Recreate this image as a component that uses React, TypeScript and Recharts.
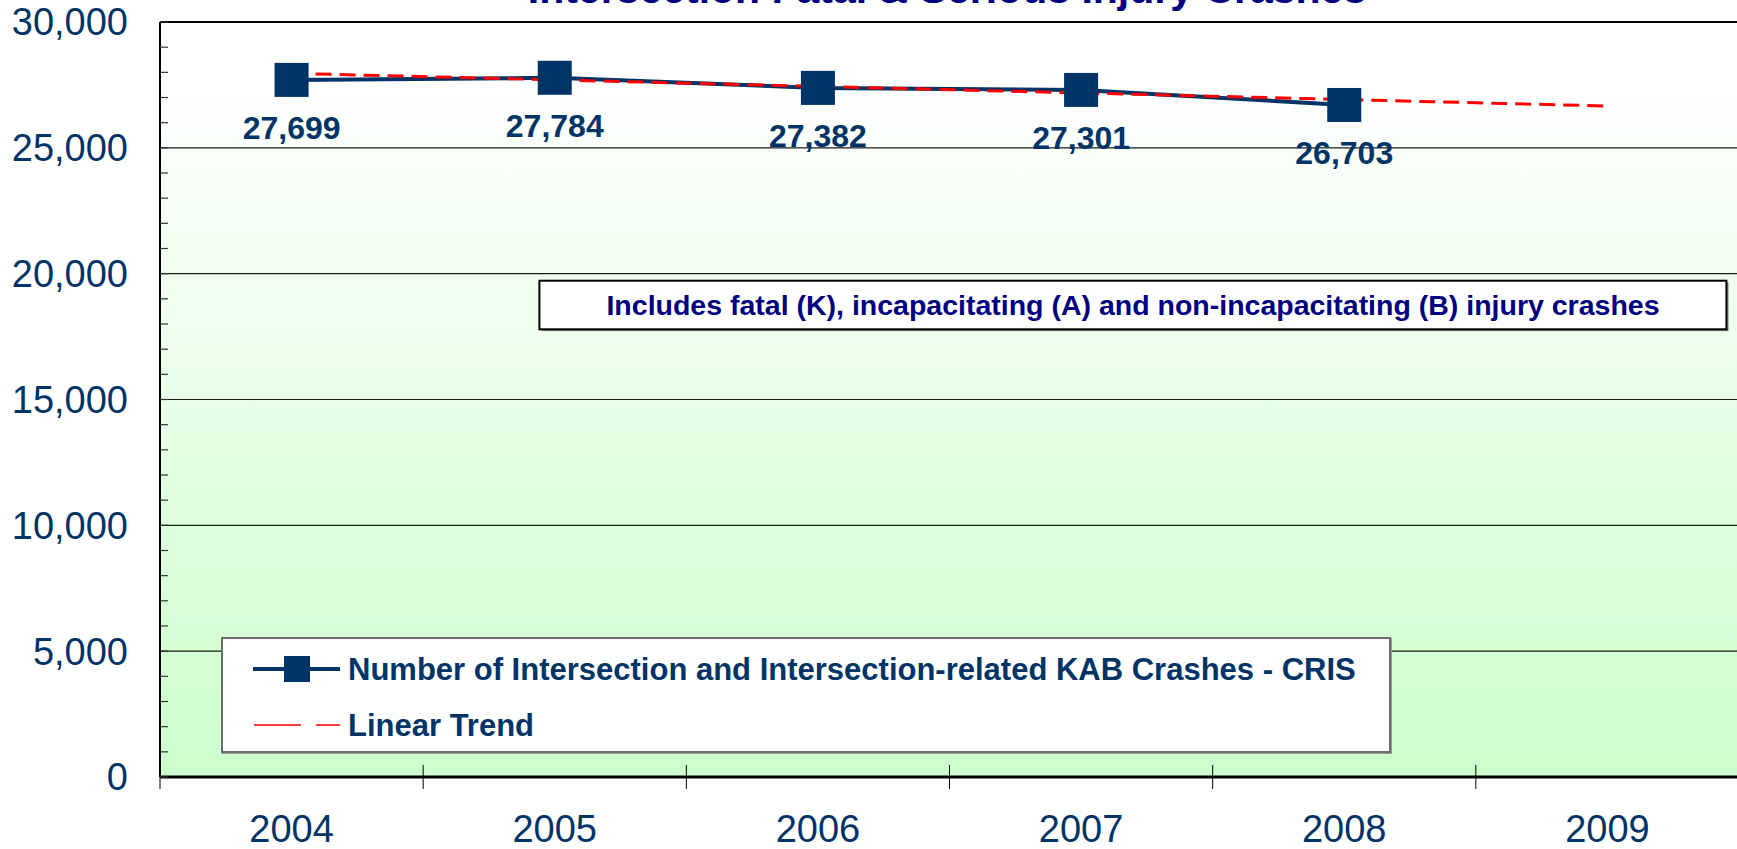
import {
  LineChart,
  Line,
  XAxis,
  YAxis,
  CartesianGrid,
  Legend,
  LabelList,
  ReferenceLine,
} from "recharts";

const years = ["2004", "2005", "2006", "2007", "2008", "2009"];
const crashes = [27699, 27784, 27382, 27301, 26703, null];
const trend = [27960, 27700, 27440, 27180, 26920, 26660];
const yTicks = [0, 5000, 10000, 15000, 20000, 25000, 30000];
const minorTicks = Array.from({ length: 31 }, (_, i) => i * 1000);

const seriesName = "Number of Intersection and Intersection-related KAB Crashes - CRIS";
const trendName = "Linear Trend";
const title = "Intersection Fatal & Serious Injury Crashes";
const note = "Includes fatal (K), incapacitating (A) and non-incapacitating (B) injury crashes";

const data = years.map((year, i) => ({ year, crashes: crashes[i], trend: trend[i] }));

const FONT = "'Liberation Sans', Arial, sans-serif";
const NAVY = "#003366";
const DARK_BLUE = "#000080";
const RED = "#ff0000";

function SquareDot(props: any) {
  const { cx, cy, value } = props;
  if (cx == null || cy == null || value == null) return null;
  return <rect x={cx - 17} y={cy - 17} width={34} height={34} fill={NAVY} />;
}

function ValueLabel(props: any) {
  const { x, y, value } = props;
  if (value == null || x == null || y == null) return null;
  return (
    <text
      x={x}
      y={y + 59}
      textAnchor="middle"
      fontFamily={FONT}
      fontSize={32}
      fontWeight="bold"
      fill={NAVY}
    >
      {Number(value).toLocaleString("en-US")}
    </text>
  );
}

function YearTick(props: any) {
  const { x, y, payload, index, visibleTicksCount, width } = props;
  const half = payload.offset || width / visibleTicksCount / 2;
  return (
    <g>
      <line x1={x - half} x2={x - half} y1={y - 12} y2={y + 12} stroke="#000" strokeWidth={1} />
      {index === visibleTicksCount - 1 && (
        <line x1={x + half} x2={x + half} y1={y - 12} y2={y + 12} stroke="#000" strokeWidth={1} />
      )}
      <text x={x} y={y + 65} textAnchor="middle" fontFamily={FONT} fontSize={38} fill={NAVY}>
        {payload.value}
      </text>
    </g>
  );
}

// value axis: inward tick every 1,000, label every 5,000
function ValueTick(props: any) {
  const { x, y, payload } = props;
  const v = payload.value as number;
  return (
    <g>
      <line x1={x} x2={x + 8} y1={y} y2={y} stroke="#333" strokeWidth={1.2} />
      {yTicks.includes(v) && (
        <text
          x={x - 32}
          y={y}
          dy="0.355em"
          textAnchor="end"
          fontFamily={FONT}
          fontSize={38}
          fill={NAVY}
        >
          {v.toLocaleString("en-US")}
        </text>
      )}
    </g>
  );
}

function LegendBox(props: any) {
  // keep the series first, trend second (recharts sorts by name otherwise)
  const items = [...(props.payload || [])].sort((a: any, b: any) =>
    a.value === seriesName ? -1 : b.value === seriesName ? 1 : 0
  );
  return (
    <svg width={1166} height={112} style={{ display: "block" }}>
      {items.map((item: any, i: number) => {
        const cy = i === 0 ? 30 : 86;
        const isSeries = item.value === seriesName;
        return (
          <g key={item.value}>
            {isSeries ? (
              <>
                <line x1={30} x2={117} y1={cy} y2={cy} stroke={NAVY} strokeWidth={4} />
                <rect x={61} y={cy - 13} width={26} height={26} fill={NAVY} />
              </>
            ) : (
              <line
                x1={31}
                x2={117}
                y1={cy}
                y2={cy}
                stroke={RED}
                strokeWidth={1.5}
                strokeDasharray="47 15 24 100"
              />
            )}
            <text
              x={125}
              y={cy + 11}
              fontFamily={FONT}
              fontSize={31}
              fontWeight="bold"
              fill={NAVY}
            >
              {item.value}
            </text>
          </g>
        );
      })}
    </svg>
  );
}

export default function App() {
  return (
    <div
      style={{
        position: "fixed",
        left: 0,
        top: 0,
        width: 1737,
        height: 849,
        overflow: "hidden",
        background: "#fff",
      }}
    >
      <LineChart
        width={1745}
        height={849}
        data={data}
        margin={{ top: 22, right: 6, bottom: 0, left: 0 }}
      >
        <defs>
          <linearGradient id="plotBg" x1="0" y1="0" x2="0" y2="1">
            <stop offset="0%" stopColor="#ffffff" />
            <stop offset="8%" stopColor="#ffffff" />
            <stop offset="100%" stopColor="#ccffcc" />
          </linearGradient>
        </defs>
        <CartesianGrid
          vertical={false}
          horizontalValues={yTicks}
          stroke="#1a1a1a"
          strokeWidth={1.2}
          fill="url(#plotBg)"
          fillOpacity={1}
        />
        <XAxis
          dataKey="year"
          scale="band"
          height={72}
          interval={0}
          tickSize={0}
          tickMargin={0}
          tickLine={false}
          axisLine={{ stroke: "#000", strokeWidth: 3 }}
          tick={<YearTick />}
        />
        <YAxis
          type="number"
          domain={[0, 30000]}
          ticks={minorTicks}
          interval={0}
          width={160}
          tickSize={0}
          tickMargin={0}
          tickLine={false}
          axisLine={{ stroke: "#000", strokeWidth: 2 }}
          tick={<ValueTick />}
        />
        <ReferenceLine y={30000} stroke="#000" strokeWidth={2} />
        <Line
          type="linear"
          dataKey="crashes"
          name={seriesName}
          stroke={NAVY}
          strokeWidth={4}
          dot={<SquareDot />}
          activeDot={false}
          isAnimationActive={false}
        >
          <LabelList dataKey="crashes" content={<ValueLabel />} />
        </Line>
        <Line
          type="linear"
          dataKey="trend"
          name={trendName}
          stroke={RED}
          strokeWidth={3}
          strokeDasharray="16 8"
          dot={false}
          activeDot={false}
          isAnimationActive={false}
        />
        <Legend
          layout="horizontal"
          verticalAlign="middle"
          align="center"
          content={<LegendBox />}
          wrapperStyle={{
            left: 221,
            top: 637,
            width: 1170,
            height: 116,
            boxSizing: "border-box",
            background: "#fff",
            border: "2px solid #6b6b6b",
            boxShadow: "1px 1px 0 #999",
          }}
        />
      </LineChart>
      <svg
        width={1737}
        height={849}
        style={{ position: "absolute", left: 0, top: 0, pointerEvents: "none" }}
      >
        <text
          x={947}
          y={3}
          textAnchor="middle"
          fontFamily={FONT}
          fontSize={41}
          fontWeight="bold"
          fill={DARK_BLUE}
        >
          {title}
        </text>
        <rect x={541.5} y={282.5} width={1187} height={48.6} fill="#808080" />
        <rect x={539.4} y={280.7} width={1187} height={48.6} fill="#fff" stroke="#000" strokeWidth={2} />
        <text
          x={1133}
          y={315}
          textAnchor="middle"
          fontFamily={FONT}
          fontSize={28.5}
          fontWeight="bold"
          fill={DARK_BLUE}
        >
          {note}
        </text>
      </svg>
    </div>
  );
}
